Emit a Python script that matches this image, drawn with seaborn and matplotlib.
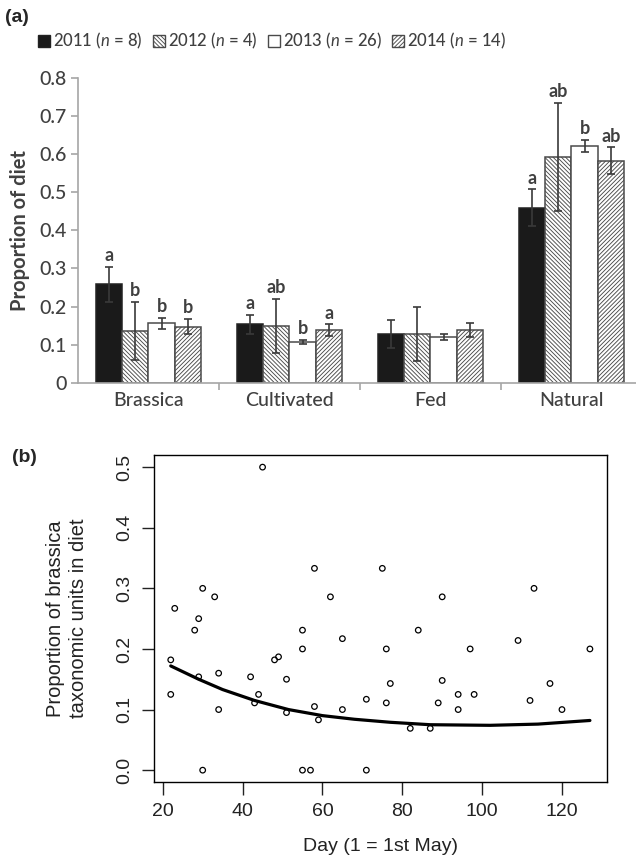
import numpy as np
import pandas as pd
import matplotlib
matplotlib.use("Agg")
import matplotlib.pyplot as plt
import seaborn as sns
from matplotlib.patches import Patch

# ---------------- data: panel (a) ----------------
categories = ["Brassica", "Cultivated", "Fed", "Natural"]
year_labels = ["2011 ($\\mathit{n}$ = 8)", "2012 ($\\mathit{n}$ = 4)",
               "2013 ($\\mathit{n}$ = 26)", "2014 ($\\mathit{n}$ = 14)"]
mean_2011 = [0.259, 0.153, 0.128, 0.460]
se_2011 = [0.046, 0.025, 0.037, 0.048]
mean_2012 = [0.136, 0.149, 0.128, 0.594]
se_2012 = [0.077, 0.071, 0.072, 0.142]
mean_2013 = [0.156, 0.107, 0.119, 0.622]
se_2013 = [0.015, 0.006, 0.008, 0.016]
mean_2014 = [0.147, 0.138, 0.138, 0.583]
se_2014 = [0.020, 0.015, 0.018, 0.035]
letters_2011 = ["a", "a", "", "a"]
letters_2012 = ["b", "ab", "", "ab"]
letters_2013 = ["b", "b", "", "b"]
letters_2014 = ["b", "a", "", "ab"]
ytick_vals_a = [0, 0.1, 0.2, 0.3, 0.4, 0.5, 0.6, 0.7, 0.8]
ytick_labels_a = ["0", "0.1", "0.2", "0.3", "0.4", "0.5", "0.6", "0.7", "0.8"]

# ---------------- data: panel (b) ----------------
day = [22, 22, 23, 28, 29, 29, 30, 30, 33, 34, 34, 42, 43, 44, 45, 48, 49, 51, 51,
       55, 55, 55, 57, 58, 58, 59, 62, 65, 65, 71, 71, 75, 76, 76, 77, 82, 84, 87,
       89, 90, 90, 94, 94, 97, 98, 109, 112, 113, 117, 120, 127]
prop = [0.182, 0.125, 0.267, 0.231, 0.250, 0.154, 0.300, 0.000, 0.286, 0.160, 0.100,
        0.154, 0.111, 0.125, 0.500, 0.182, 0.187, 0.150, 0.095, 0.231, 0.200, 0.000,
        0.000, 0.333, 0.105, 0.083, 0.286, 0.217, 0.100, 0.117, 0.000, 0.333, 0.200,
        0.111, 0.143, 0.069, 0.231, 0.069, 0.111, 0.286, 0.148, 0.125, 0.100, 0.200,
        0.125, 0.214, 0.115, 0.300, 0.143, 0.100, 0.200]
curve_day = [22, 29, 35, 43, 51.5, 60, 68, 77, 87, 102, 114, 127]
curve_prop = [0.172, 0.150, 0.133, 0.115, 0.100, 0.090, 0.084, 0.079, 0.075, 0.074,
              0.076, 0.082]
xticks_b = [20, 40, 60, 80, 100, 120]
yticks_b = [0.0, 0.1, 0.2, 0.3, 0.4, 0.5]
ytick_labels_b = ["0.0", "0.1", "0.2", "0.3", "0.4", "0.5"]

sns.set_theme(style="ticks")
plt.rcParams["font.family"] = ["Lato", "DejaVu Sans"]
plt.rcParams["mathtext.fontset"] = "custom"
plt.rcParams["mathtext.it"] = "Lato:italic"
plt.rcParams["mathtext.rm"] = "Lato"
plt.rcParams["hatch.linewidth"] = 0.65

TXT = "#404040"
AXC = "#a6a6a6"
EDGE = "#4a4a4a"

fig = plt.figure(figsize=(6.36, 8.59), dpi=100)

# ---------------- panel (a) ----------------
ax1 = fig.add_axes([0.1226, 0.5545, 0.8868, 0.3545])
means = [mean_2011, mean_2012, mean_2013, mean_2014]
ses = [se_2011, se_2012, se_2013, se_2014]
letters = [letters_2011, letters_2012, letters_2013, letters_2014]
rows = []
for yl, m in zip(year_labels, means):
    for c, v in zip(categories, m):
        rows.append({"category": c, "year": yl, "value": v})
df = pd.DataFrame(rows)
face = ["#1a1a1a", "white", "white", "white"]
hatches = [None, "\\" * 8, None, "/" * 8]
sns.barplot(data=df, x="category", y="value", hue="year", order=categories,
            hue_order=year_labels, palette=dict(zip(year_labels, face)),
            saturation=1, width=0.75, errorbar=None, legend=False, ax=ax1,
            edgecolor=EDGE, linewidth=1.1)
bar_conts = list(ax1.containers)
for i, cont in enumerate(bar_conts):
    for j, bar in enumerate(cont):
        if hatches[i]:
            bar.set_hatch(hatches[i])
        bar.set_edgecolor(EDGE if i else "#222222")
        xc = bar.get_x() + bar.get_width() / 2
        ax1.errorbar(xc, means[i][j], yerr=ses[i][j], color="#3a3a3a",
                     elinewidth=1.2, capsize=3.2, capthick=1.2, zorder=5)
        if letters[i][j]:
            ax1.annotate(letters[i][j], (xc, means[i][j] + ses[i][j]),
                         xytext=(0, 2), textcoords="offset points",
                         ha="center", va="bottom", fontsize=13,
                         fontweight="bold", color=TXT)
ax1.set_ylim(0, 0.8)
ax1.set_xlim(-0.5, 3.5)
ax1.set_yticks(ytick_vals_a)
ax1.set_yticklabels(ytick_labels_a)
ax1.set_xticks(range(len(categories)))
ax1.set_xticklabels(categories)
ax1.set_xticks([0.5, 1.5, 2.5], minor=True)
sns.despine(ax=ax1)
for s in ["left", "bottom"]:
    ax1.spines[s].set_color(AXC)
    ax1.spines[s].set_linewidth(1.2)
ax1.tick_params(axis="y", length=5, width=1.2, color=AXC, labelsize=14,
                labelcolor=TXT, pad=3)
ax1.tick_params(axis="x", which="major", length=0, labelsize=14,
                labelcolor=TXT, pad=7)
ax1.tick_params(axis="x", which="minor", length=5, width=1.2, color=AXC,
                bottom=True)
for lab in ax1.get_xticklabels() + ax1.get_yticklabels():
    lab.set_fontweight("medium")
ax1.set_xlabel("")
ax1.set_ylabel("Proportion of diet", fontsize=14.5, fontweight="bold", color=TXT)
ax1.yaxis.set_label_coords(-0.1028, 0.5)
ax1.yaxis.label.set_va("center")

handles = [Patch(facecolor=face[i], edgecolor=EDGE if i else "#222222",
                 hatch=hatches[i], label=year_labels[i]) for i in range(4)]
fig.legend(handles=handles, loc="center left",
           bbox_to_anchor=(38 / 636, 1 - 41 / 859), ncol=4, frameon=False,
           prop={"size": 12, "weight": "medium"}, handlelength=0.72,
           handleheight=0.72, handletextpad=0.2, columnspacing=0.6,
           borderaxespad=0, borderpad=0, labelcolor=TXT)
fig.text(5 / 636, 1 - 18 / 859, "(a)", fontsize=14, fontweight="bold",
         family="Liberation Sans", va="center", ha="left")

# ---------------- panel (b) ----------------
ax2 = fig.add_axes([0.2421, 0.0893, 0.7118, 0.3810])
sns.scatterplot(x=day, y=prop, ax=ax2, marker="o", s=16, color="black",
                linewidth=0.9)
coll = ax2.collections[0]
coll.set_facecolor("none")
coll.set_edgecolor("black")
sns.lineplot(x=curve_day, y=curve_prop, ax=ax2, color="black", linewidth=2.3)
ax2.set_xlim(17.8, 131.2)
ax2.set_ylim(-0.02, 0.52)
ax2.set_xticks(xticks_b)
ax2.set_yticks(yticks_b)
ax2.set_yticklabels(ytick_labels_b, rotation=90, va="center")
for s in ax2.spines.values():
    s.set_color("black")
    s.set_linewidth(1.0)
ax2.tick_params(axis="both", length=9, width=1.0, color="#222222",
                labelsize=14, labelcolor="#222222", pad=6)
for lab in ax2.get_xticklabels() + ax2.get_yticklabels():
    lab.set_family("Liberation Sans")
ax2.set_xlabel("Day (1 = 1st May)", fontsize=14, family="Liberation Sans",
               color="#222222")
ax2.set_ylabel("Proportion of brassica\ntaxonomic units in diet", fontsize=14.5,
               family="Liberation Sans", color="#222222", linespacing=1.25)
ax2.xaxis.set_label_coords(0.5, -0.197)
ax2.xaxis.label.set_va("center")
ax2.yaxis.set_label_coords(-0.192, 0.5)
ax2.yaxis.label.set_va("center")
fig.text(12 / 636, 1 - 457 / 859, "(b)", fontsize=14, fontweight="bold",
         family="Liberation Sans", va="center", ha="left")

fig.savefig("out.png", dpi=100)
